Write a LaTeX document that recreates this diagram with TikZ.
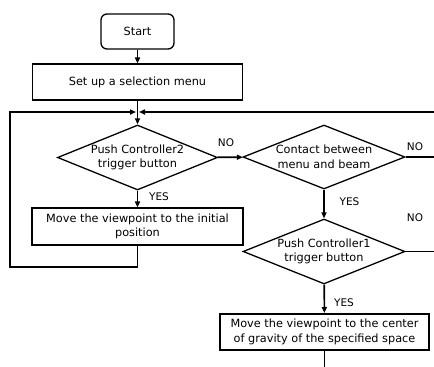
\documentclass[tikz,border=0pt]{standalone}
\usepackage{fontspec}
\setmainfont{DejaVu Sans}
\usetikzlibrary{shapes.geometric,arrows.meta}
\begin{document}
\begin{tikzpicture}[x=1pt,y=-1pt,
  every node/.style={font=\fontsize{11.3}{14.5}\selectfont},
  proc/.style={draw, line width=1.1pt, rectangle, inner sep=0pt, align=center},
  decision/.style={draw, line width=1.3pt, diamond, aspect=2.5, inner sep=0pt, align=center},
  lbl/.style={font=\fontsize{10.5}{12}\selectfont},
  flow/.style={line width=1.6pt},
  arr/.style={flow, -{Triangle[length=6pt,width=5pt]}}]
\useasboundingbox (0,0) rectangle (434,367);

% process boxes and decisions
\node[proc, line width=1.3pt, rounded corners=6pt, minimum width=73pt, minimum height=35pt] (start) at (137.5,31.5) {Start};
\node[proc, minimum width=210pt, minimum height=36pt] (setup) at (137.5,82) {Set up a selection menu};
\node[decision, minimum width=160pt, minimum height=65pt] (d1) at (137.5,157.5) {Push Controller2\\trigger button};
\node[proc, minimum width=211pt, minimum height=37pt] (a) at (137.5,226.5) {Move the viewpoint to the initial\\position};
\node[decision, minimum width=162pt, minimum height=64pt] (d2) at (324,157) {Contact between\\menu and beam};
\node[decision, minimum width=162pt, minimum height=65pt] (d3) at (324,251.5) {Push Controller1\\trigger button};
\node[proc, line width=2pt, minimum width=209pt, minimum height=36pt] (b) at (324.5,332) {Move the viewpoint to the center\\of gravity of the specified space};

% junction and free ends
\coordinate (jl) at (136,112);
\coordinate (jr) at (139,112);
\coordinate (lb) at (10,267);
\coordinate (lt) at (10,112);
\coordinate (er) at (434,112);
\coordinate (e2) at (434,157);
\coordinate (e3) at (434,251.5);
\coordinate (eb) at (324.5,367);

% connectors
\draw[arr] (start) -- (setup);
\draw[arr] (setup) -- (d1);
\draw[arr] (a.south) |- (lb) -- (lt) -- (jl);
\draw[arr] (er) -- (jr);
\draw[arr] (d1) -- (a);
\draw[arr] (d1) -- (d2);
\draw[flow] (d2) -- (e2);
\draw[arr] (d2) -- (d3);
\draw[flow] (d3) -- (e3);
\draw[arr] (d3) -- (b);
\draw[flow] (b) -- (eb);

% branch labels
\node[lbl] (no1) at (226,143) {NO};
\node[lbl] (no2) at (415,147) {NO};
\node[lbl] (no3) at (415,218) {NO};
\node[lbl] (yes1) at (159,197) {YES};
\node[lbl] (yes2) at (349.5,202) {YES};
\node[lbl] (yes3) at (344,302.5) {YES};
\end{tikzpicture}
\end{document}
